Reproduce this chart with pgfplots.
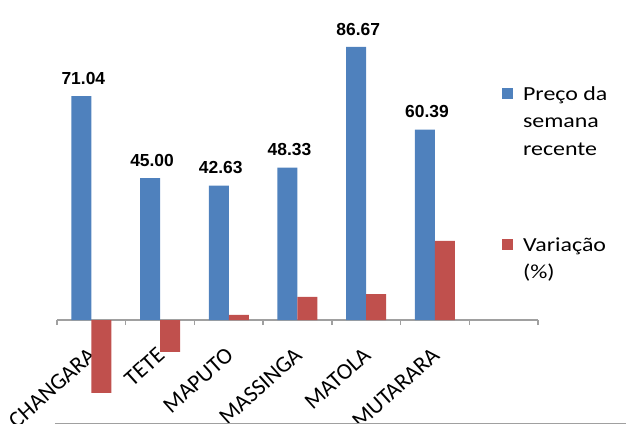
\documentclass[border=0pt]{standalone}
\usepackage{fontspec}
\setmainfont{Carlito}[FakeStretch=1.2]
\newfontfamily\tickfont{Carlito}
\newfontfamily\valfont{Liberation Sans}
\usepackage{pgfplots}
\pgfplotsset{compat=1.18}
\definecolor{barblue}{HTML}{4F81BD}
\definecolor{barred}{HTML}{C0504D}
\definecolor{axisgray}{HTML}{A0A0A0}
\newcommand{\lines}[1]{\begin{tabular}[t]{@{}l@{}}#1\end{tabular}}
\begin{document}
\begin{tikzpicture}
\begin{axis}[
    at={(0,0)}, anchor=south west,
    scale only axis,
    width=481bp, height=394.1bp,
    xmin=-0.5, xmax=6.5,
    ymin=-30, ymax=95,
    axis x line=middle, axis y line=none,
    x axis line style={-, draw=axisgray, line width=1.3pt},
    ytick=\empty,
    xtick={0,...,5},
    xticklabels={CHANGARA,TETE,MAPUTO,MASSINGA,MATOLA,MUTARARA},
    major tick length=0pt,
    extra x ticks={-0.5,0.5,1.5,2.5,3.5,4.5,5.5,6.5},
    extra x tick labels={},
    extra x tick style={major tick length=5bp, tick style={draw=axisgray, line width=1.3pt}, tick align=outside},
    hide obscured x ticks=false,
    xticklabel style={font=\tickfont\fontsize{23}{26}\selectfont, xshift=6bp, yshift=-37bp, rotate=42, anchor=base east, inner sep=0pt},
    ybar=0pt, bar width=20bp,
    legend image code/.code={\fill[#1] (0bp,1bp) rectangle (11bp,12bp);},
    legend style={at={(axis description cs:0.925,0.8465)}, anchor=north west,
        draw=none, fill=none, inner sep=0pt,
        font=\fontsize{20}{27.5}\selectfont,
        cells={anchor=base west}, nodes={inner sep=0pt},
        column sep=10bp, row sep=130bp},
    clip=false,
]
\addplot[fill=barblue, draw=none,
    nodes near coords={\pgfmathprintnumber[assume math mode=true,fixed,fixed zerofill,precision=2]{\pgfplotspointmeta}},
    every node near coord/.append style={font=\valfont\bfseries\fontsize{17.5}{20}\selectfont, text=black, xshift=2bp, yshift=8bp}]
    coordinates {(0,71.04) (1,45.00) (2,42.63) (3,48.33) (4,86.67) (5,60.39)};
\addlegendentry{\lines{Preço da\\semana\\recente}}
\addplot[fill=barred, draw=none]
    coordinates {(0,-23.1) (1,-10.1) (2,1.6) (3,7.3) (4,8.2) (5,25.1)};
\addlegendentry{\lines{Variação\\(\%)}}
\end{axis}
\draw[axisgray, line width=1pt] (-2bp,-8.4bp) -- (569bp,-8.4bp);
\pgfresetboundingbox
\path[use as bounding box] (-57bp,-9.4bp) rectangle (569bp,414.6bp);
\end{tikzpicture}
\end{document}
